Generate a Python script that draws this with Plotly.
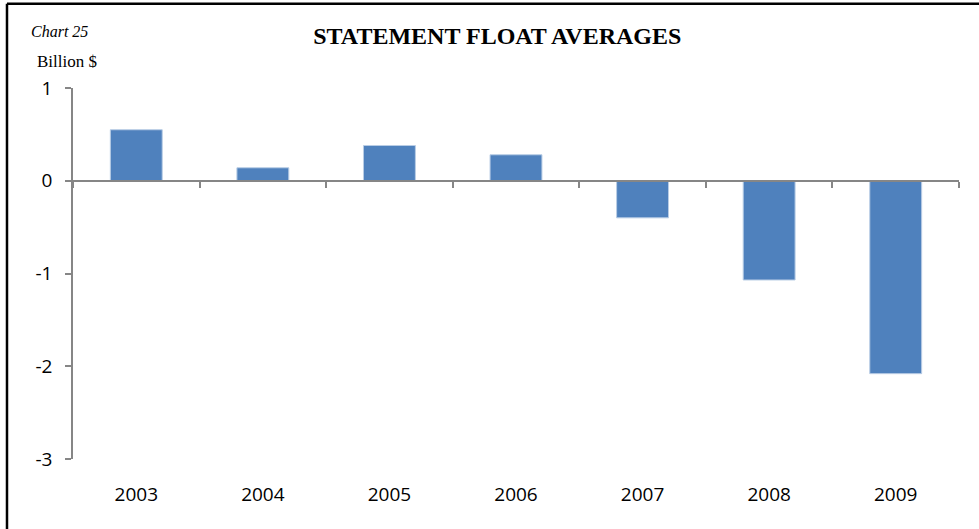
import plotly.graph_objects as go

years = ["2003", "2004", "2005", "2006", "2007", "2008", "2009"]
float_avg = [0.55, 0.14, 0.38, 0.28, -0.40, -1.07, -2.08]
y_ticks = [1, 0, -1, -2, -3]

AXIS_GREY = "#868686"
BAR_BLUE = "#4f81bd"

fig = go.Figure()
fig.add_trace(
    go.Bar(
        x=years,
        y=float_avg,
        marker=dict(color=BAR_BLUE, line=dict(color="#b9cde5", width=1)),
        hoverinfo="x+y",
    )
)
# invisible trace on the overlay axis so the zero line with boundary ticks is drawn
fig.add_trace(
    go.Scatter(x=years, y=[0] * len(years), xaxis="x2", mode="none",
               showlegend=False, hoverinfo="skip")
)

fig.update_layout(
    width=979,
    height=529,
    margin=dict(l=73, r=20, t=88, b=70),
    paper_bgcolor="white",
    plot_bgcolor="white",
    showlegend=False,
    bargap=0.59,
    font=dict(family="Open Sans", size=19, color="black"),
    title=dict(
        text="<b>STATEMENT FLOAT AVERAGES</b>",
        x=0.508, xanchor="center", y=0.932, yanchor="middle",
        font=dict(family="Liberation Serif", size=24, color="black"),
    ),
    xaxis=dict(
        type="category",
        showline=False,
        showgrid=False,
        zeroline=False,
        ticks="",
        ticklabelstandoff=22,
        range=[-0.5, 6.5],
    ),
    xaxis2=dict(
        type="category",
        overlaying="x",
        anchor="free",
        position=0.75,
        side="bottom",
        showline=True,
        linecolor=AXIS_GREY,
        linewidth=1.5,
        ticks="outside",
        tickson="boundaries",
        ticklen=6,
        tickcolor=AXIS_GREY,
        tickwidth=1.5,
        showticklabels=False,
        showgrid=False,
        range=[-0.5, 6.5],
    ),
    yaxis=dict(
        range=[-3, 1],
        tickvals=y_ticks,
        ticktext=[str(v) if v >= 0 else "-" + str(-v) for v in y_ticks],
        showline=True,
        linecolor=AXIS_GREY,
        linewidth=1.5,
        ticks="outside",
        ticklen=6,
        tickcolor=AXIS_GREY,
        tickwidth=1.5,
        showgrid=False,
        zeroline=False,
        ticklabelstandoff=9,
    ),
)

# outer frame: only top and left edges show in the original
fig.add_shape(type="line", xref="paper", yref="paper",
              x0=-0.0745, x1=1.03, y0=1.227, y1=1.227,
              line=dict(color="black", width=2.5))
fig.add_shape(type="line", xref="paper", yref="paper",
              x0=-0.0745, x1=-0.0745, y0=1.227, y1=-0.25,
              line=dict(color="black", width=2.5))

fig.add_annotation(text="<i>Chart 25</i>", xref="paper", yref="paper",
                   x=-0.0495, y=1.152, xanchor="left", yanchor="middle",
                   showarrow=False,
                   font=dict(family="Liberation Serif", size=16, color="black"))
fig.add_annotation(text="Billion $", xref="paper", yref="paper",
                   x=-0.0425, y=1.071, xanchor="left", yanchor="middle",
                   showarrow=False,
                   font=dict(family="Liberation Serif", size=17, color="black"))

# drop the default page margin so the figure sits flush with the window
fig.write_html("out.html", config={"displayModeBar": False},
               post_script="document.body.style.margin='0';")
